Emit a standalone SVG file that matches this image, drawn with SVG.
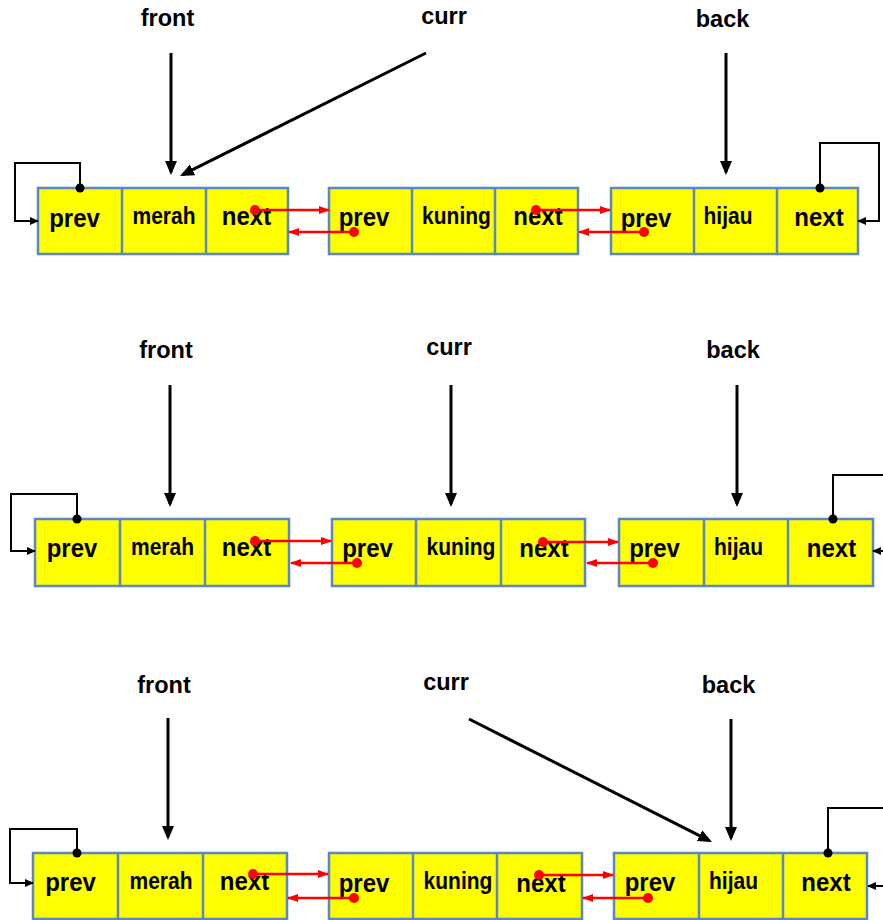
<svg xmlns="http://www.w3.org/2000/svg" width="883" height="920" viewBox="0 0 883 920">
  <style>
    .cell { fill: #FFFF00; stroke: #5A87C5; stroke-width: 2.5; }
    .div { stroke: #5A87C5; stroke-width: 2.5; }
    .big { font-family: "Liberation Sans", Arial, sans-serif; font-weight: bold; font-size: 24px; text-anchor: middle; fill: #000; }
    .mid { font-family: "Liberation Sans", Arial, sans-serif; font-weight: bold; font-size: 21px; text-anchor: middle; fill: #000; }
    .lbl { font-family: "Liberation Sans", Arial, sans-serif; font-weight: bold; font-size: 23.5px; text-anchor: middle; fill: #000; }
    .ptr { fill: none; stroke: #000; stroke-width: 3; marker-end: url(#headBig); }
    .loop { fill: none; stroke: #000; stroke-width: 2; }
    .loopArrow { marker-end: url(#headSmall); }
    .link { fill: none; stroke: #FF0000; stroke-width: 2.6; marker-end: url(#headRed); }
    .dotR { fill: #FF0000; }
    .dotK { fill: #000; }
  </style>
  <defs>
    <marker id="headBig" markerUnits="userSpaceOnUse" viewBox="0 0 14 14" markerWidth="14" markerHeight="14" refX="11" refY="7" orient="auto">
      <path d="M0,1 L14,7 L0,13 z" fill="#000"/>
    </marker>
    <marker id="headSmall" markerUnits="userSpaceOnUse" viewBox="0 0 9 8" markerWidth="9" markerHeight="8" refX="8" refY="4" orient="auto">
      <path d="M0,0 L9,4 L0,8 z" fill="#000"/>
    </marker>
    <marker id="headRed" markerUnits="userSpaceOnUse" viewBox="0 0 11 9" markerWidth="11" markerHeight="9" refX="10" refY="4.5" orient="auto">
      <path d="M0,0.5 L11,4.5 L0,8.5 z" fill="#FF0000"/>
    </marker>
  </defs>

  <rect width="883" height="920" fill="#FFFFFF"/>

  <!-- pointer labels -->
  <g id="labels">
    <text class="lbl" x="167.5" y="26">front</text>
    <text class="lbl" x="444" y="24">curr</text>
    <text class="lbl" x="722.5" y="26.5">back</text>

    <text class="lbl" x="166" y="358">front</text>
    <text class="lbl" x="449" y="355">curr</text>
    <text class="lbl" x="733" y="358">back</text>

    <text class="lbl" x="164" y="693">front</text>
    <text class="lbl" x="446" y="690">curr</text>
    <text class="lbl" x="728.5" y="693">back</text>
  </g>

  <!-- row 1 nodes -->
  <g id="r1-merah">
    <rect class="cell" x="38" y="188" width="250" height="66"/>
    <line class="div" x1="122" y1="188" x2="122" y2="254"/>
    <line class="div" x1="206" y1="188" x2="206" y2="254"/>
    <text class="big" transform="translate(74.5,226.5) scale(1,1.1)">prev</text>
    <text class="mid" transform="translate(164,224) scale(1,1.1)">merah</text>
    <text class="big" transform="translate(246.5,225) scale(1,1.1)">next</text>
  </g>
  <g id="r1-kuning">
    <rect class="cell" x="329" y="188" width="249" height="66"/>
    <line class="div" x1="412" y1="188" x2="412" y2="254"/>
    <line class="div" x1="495" y1="188" x2="495" y2="254"/>
    <text class="big" transform="translate(364,226) scale(1,1.1)">prev</text>
    <text class="mid" transform="translate(456.5,224) scale(1,1.1)">kuning</text>
    <text class="big" transform="translate(538,225) scale(1,1.1)">next</text>
  </g>
  <g id="r1-hijau">
    <rect class="cell" x="611" y="188" width="247" height="66"/>
    <line class="div" x1="694" y1="188" x2="694" y2="254"/>
    <line class="div" x1="777" y1="188" x2="777" y2="254"/>
    <text class="big" transform="translate(646,226.5) scale(1,1.1)">prev</text>
    <text class="mid" transform="translate(728,224) scale(1,1.1)">hijau</text>
    <text class="big" transform="translate(819,226) scale(1,1.1)">next</text>
  </g>

  <!-- row 2 nodes -->
  <g id="r2-merah">
    <rect class="cell" x="35" y="519" width="254" height="67"/>
    <line class="div" x1="120" y1="519" x2="120" y2="586"/>
    <line class="div" x1="205" y1="519" x2="205" y2="586"/>
    <text class="big" transform="translate(72,557) scale(1,1.1)">prev</text>
    <text class="mid" transform="translate(162.5,554.5) scale(1,1.1)">merah</text>
    <text class="big" transform="translate(246.5,556) scale(1,1.1)">next</text>
  </g>
  <g id="r2-kuning">
    <rect class="cell" x="332" y="519" width="253" height="67"/>
    <line class="div" x1="416" y1="519" x2="416" y2="586"/>
    <line class="div" x1="501" y1="519" x2="501" y2="586"/>
    <text class="big" transform="translate(367.5,557) scale(1,1.1)">prev</text>
    <text class="mid" transform="translate(461,555) scale(1,1.1)">kuning</text>
    <text class="big" transform="translate(544,557) scale(1,1.1)">next</text>
  </g>
  <g id="r2-hijau">
    <rect class="cell" x="619" y="519" width="254" height="67"/>
    <line class="div" x1="704" y1="519" x2="704" y2="586"/>
    <line class="div" x1="788" y1="519" x2="788" y2="586"/>
    <text class="big" transform="translate(654.5,557) scale(1,1.1)">prev</text>
    <text class="mid" transform="translate(738.5,554.5) scale(1,1.1)">hijau</text>
    <text class="big" transform="translate(831.5,556.5) scale(1,1.1)">next</text>
  </g>

  <!-- row 3 nodes -->
  <g id="r3-merah">
    <rect class="cell" x="33" y="853" width="254" height="66"/>
    <line class="div" x1="118" y1="853" x2="118" y2="919"/>
    <line class="div" x1="203" y1="853" x2="203" y2="919"/>
    <text class="big" transform="translate(70.5,890.5) scale(1,1.1)">prev</text>
    <text class="mid" transform="translate(161,888.5) scale(1,1.1)">merah</text>
    <text class="big" transform="translate(244.5,890) scale(1,1.1)">next</text>
  </g>
  <g id="r3-kuning">
    <rect class="cell" x="329" y="853" width="253" height="66"/>
    <line class="div" x1="413" y1="853" x2="413" y2="919"/>
    <line class="div" x1="497" y1="853" x2="497" y2="919"/>
    <text class="big" transform="translate(364,891.5) scale(1,1.1)">prev</text>
    <text class="mid" transform="translate(458,889) scale(1,1.1)">kuning</text>
    <text class="big" transform="translate(541,891.5) scale(1,1.1)">next</text>
  </g>
  <g id="r3-hijau">
    <rect class="cell" x="614" y="853" width="253" height="66"/>
    <line class="div" x1="699" y1="853" x2="699" y2="919"/>
    <line class="div" x1="783" y1="853" x2="783" y2="919"/>
    <text class="big" transform="translate(650,890.5) scale(1,1.1)">prev</text>
    <text class="mid" transform="translate(733.5,889) scale(1,1.1)">hijau</text>
    <text class="big" transform="translate(826,891) scale(1,1.1)">next</text>
  </g>

  <!-- connectors -->
  <g id="connectors">
    <!-- row 1 -->
    <path class="ptr" d="M171,53 V172"/>
    <path class="ptr" d="M426,53 L182.7,174.7"/>
    <path class="ptr" d="M726,53 V172"/>
    <path class="loop loopArrow" d="M80,188 V163 H15 V221 H38"/>
    <path class="loop loopArrow" d="M820,188 V143 H879 V221 H858"/>
    <path class="link" d="M255,210 H329"/>
    <path class="link" d="M354,232 H289"/>
    <path class="link" d="M536,210 H610"/>
    <path class="link" d="M644,232 H579"/>
    <circle class="dotK" cx="80" cy="188" r="4.5"/>
    <circle class="dotK" cx="820" cy="188" r="4.5"/>
    <circle class="dotR" cx="255" cy="210" r="5"/>
    <circle class="dotR" cx="354" cy="232" r="5"/>
    <circle class="dotR" cx="536" cy="210" r="5"/>
    <circle class="dotR" cx="644" cy="232" r="5"/>

    <!-- row 2 -->
    <path class="ptr" d="M170,385 V504"/>
    <path class="ptr" d="M451,385 V504"/>
    <path class="ptr" d="M737,385 V504"/>
    <path class="loop loopArrow" d="M77,519 V494 H11 V551 H35"/>
    <path class="loop" d="M833,519 V475 H883"/>
    <path class="loop loopArrow" d="M884,551 H873"/>
    <path class="link" d="M255,541 H331"/>
    <path class="link" d="M357,563 H291"/>
    <path class="link" d="M543,542 H618"/>
    <path class="link" d="M653,563 H587"/>
    <circle class="dotK" cx="77" cy="519" r="4.5"/>
    <circle class="dotK" cx="833" cy="519" r="4.5"/>
    <circle class="dotR" cx="255" cy="541" r="5"/>
    <circle class="dotR" cx="357" cy="563" r="5"/>
    <circle class="dotR" cx="543" cy="542" r="5"/>
    <circle class="dotR" cx="653" cy="563" r="5"/>

    <!-- row 3 -->
    <path class="ptr" d="M168,718 V837"/>
    <path class="ptr" d="M469,719 L709.3,840.6"/>
    <path class="ptr" d="M731,719 V838"/>
    <path class="loop loopArrow" d="M77,853 V829 H10 V883 H33"/>
    <path class="loop" d="M828,853 V808 H883"/>
    <path class="loop loopArrow" d="M884,886 H868"/>
    <path class="link" d="M253,874 H328"/>
    <path class="link" d="M354,898 H288"/>
    <path class="link" d="M539,875 H613"/>
    <path class="link" d="M648,898 H583"/>
    <circle class="dotK" cx="77" cy="853" r="4.5"/>
    <circle class="dotK" cx="828" cy="853" r="4.5"/>
    <circle class="dotR" cx="253" cy="874" r="5"/>
    <circle class="dotR" cx="354" cy="898" r="5"/>
    <circle class="dotR" cx="539" cy="875" r="5"/>
    <circle class="dotR" cx="648" cy="898" r="5"/>
  </g>
</svg>
